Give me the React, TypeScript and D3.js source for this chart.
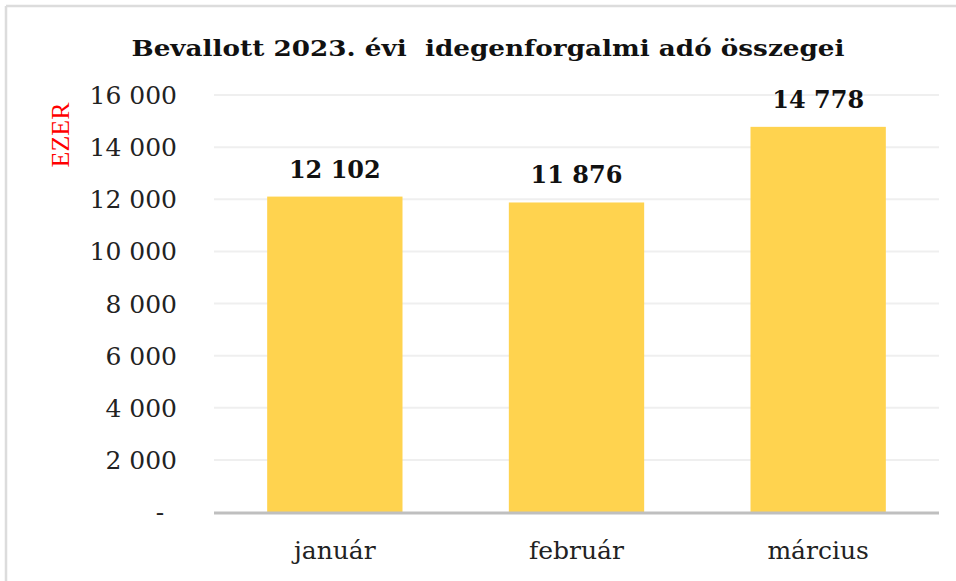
import React from "react";
import * as d3 from "d3";

const categories = ["január", "február", "március"];
const values = [12102, 11876, 14778];
const yTicks = [0, 2000, 4000, 6000, 8000, 10000, 12000, 14000, 16000];
const title = "Bevallott 2023. évi  idegenforgalmi adó összegei";
const yAxisTitle = "EZER";

const W = 956;
const H = 581;
const margin = { left: 214, right: 17, top: 95, bottom: 69 };

const fmt = (v: number) => {
  if (v === 0) return "-";
  const s = Math.round(v).toString();
  return s.replace(/\B(?=(\d{3})+(?!\d))/g, " ");
};

export default function App() {
  const x = d3
    .scaleBand<string>()
    .domain(categories)
    .range([margin.left, W - margin.right])
    .paddingInner(0.44)
    .paddingOuter(0.22);
  const y = d3
    .scaleLinear()
    .domain([0, 16000])
    .range([H - margin.bottom, margin.top]);

  const font = "'DejaVu Serif', serif";

  return (
    <div style={{ position: "absolute", left: 0, top: 0 }}>
      <svg width={W} height={H} style={{ display: "block", background: "#fff" }}>
        <rect x={0} y={0} width={W} height={H} fill="#fff" />
        <line x1={6} x2={W} y1={6} y2={6} stroke="#dcdcdc" strokeWidth={2.5} />
        <line x1={6} x2={6} y1={6} y2={H} stroke="#dcdcdc" strokeWidth={2.5} />

        <text
          x={488}
          y={56}
          textAnchor="middle"
          fontFamily={font}
          fontWeight="bold"
          fontSize={23}
          textLength={713}
          lengthAdjust="spacingAndGlyphs"
          fill="#111"
          style={{ whiteSpace: "pre" }}
        >
          {title}
        </text>

        {yTicks.map((t) => (
          <g key={t}>
            {t > 0 && (
              <line
                x1={margin.left}
                x2={W - margin.right}
                y1={y(t)}
                y2={y(t)}
                stroke="#efefef"
                strokeWidth={2}
              />
            )}
            <text
              x={t === 0 ? 160 : 177}
              y={y(t) + 9}
              textAnchor={t === 0 ? "middle" : "end"}
              fontFamily={font}
              fontSize={25}
              fill="#222"
            >
              {fmt(t)}
            </text>
          </g>
        ))}

        <text
          transform={`translate(69,135) rotate(-90)`}
          textAnchor="middle"
          fontFamily="'Liberation Serif', serif"
          fontSize={26}
          fill="#ff0000"
        >
          {yAxisTitle}
        </text>

        {categories.map((c, i) => (
          <g key={c}>
            <rect
              x={x(c)!}
              y={y(values[i])}
              width={x.bandwidth()}
              height={y(0) - y(values[i])}
              fill="#FFD34F"
            />
            <text
              x={x(c)! + x.bandwidth() / 2}
              y={y(values[i]) - 19}
              textAnchor="middle"
              fontFamily={font}
              fontWeight="bold"
              fontSize={24}
              fill="#111"
            >
              {fmt(values[i])}
            </text>
            <text
              x={x(c)! + x.bandwidth() / 2}
              y={H - 22}
              textAnchor="middle"
              fontFamily={font}
              fontSize={25}
              fill="#222"
            >
              {c}
            </text>
          </g>
        ))}

        <line
          x1={margin.left}
          x2={W - margin.right}
          y1={y(0) + 1}
          y2={y(0) + 1}
          stroke="#bfbfbf"
          strokeWidth={3}
        />
      </svg>
    </div>
  );
}
